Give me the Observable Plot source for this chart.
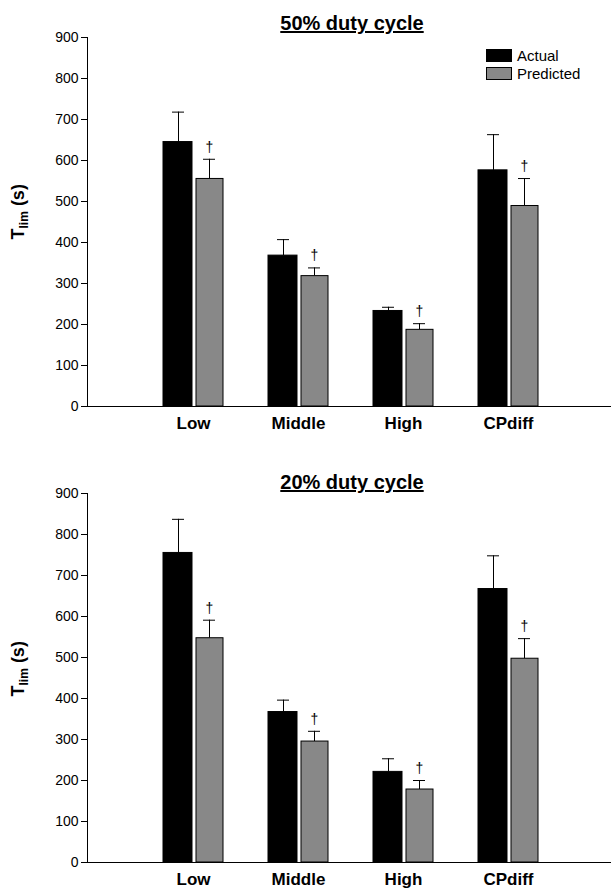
<!DOCTYPE html>
<html><head><meta charset="utf-8">
<script src="https://cdn.jsdelivr.net/npm/d3@7"></script>
<script src="https://cdn.jsdelivr.net/npm/@observablehq/plot@0.6"></script>
<style>
body{margin:0;font-family:"Liberation Sans",Arial,sans-serif;background:#fff}
.panel{position:relative;width:611px}
.title{position:absolute;left:87px;width:530px;text-align:center;font-weight:bold;font-size:20px;text-decoration:underline}
.ylab{position:absolute;left:-8px;transform:rotate(-90deg);font-weight:bold;font-size:18px;white-space:nowrap}
.ylab sub{font-size:12px}
.leg{position:absolute;left:486px;font-size:15px}
.leg div{display:flex;align-items:center;height:18px}
.leg span{display:inline-block;width:24px;height:11px;border:1px solid #000;margin-right:5px}
</style></head><body>
<div id="charts"></div>
<script>
const categories = ["Low", "Middle", "High", "CPdiff"];
const series = ["Actual", "Predicted"];
const actual50 = [645, 368, 233, 576];
const actual50Err = [718, 407, 242, 663];
const pred50 = [555, 318, 187, 489];
const pred50Err = [603, 338, 202, 556];
const actual20 = [755, 367, 221, 667];
const actual20Err = [837, 396, 253, 748];
const pred20 = [547, 295, 178, 497];
const pred20Err = [591, 320, 200, 546];
const yTicks = [0, 100, 200, 300, 400, 500, 600, 700, 800, 900];

function rows(a, ae, p, pe) {
  return categories.flatMap((c, i) => [
    {cat: c, s: "Actual", v: a[i], err: ae[i]},
    {cat: c, s: "Predicted", v: p[i], err: pe[i]}
  ]);
}

function panel(title, data, cfg) {
  const div = document.createElement("div");
  div.className = "panel";
  div.style.height = cfg.panelH + "px";
  const A = data.filter(d => d.s === "Actual"), P = data.filter(d => d.s === "Predicted");
  const chart = Plot.plot({
    width: 611, height: cfg.h,
    marginLeft: 87, marginRight: 0, marginTop: cfg.mt, marginBottom: cfg.mb,
    style: {fontFamily: "Liberation Sans, Arial, sans-serif"},
    x: {domain: categories, range: [163, 541], paddingInner: 0.43, paddingOuter: 0, align: 0, label: null},
    y: {domain: [0, 900], label: null},
    marks: [
      Plot.ruleX(A, {x: "cat", y1: "v", y2: "err", dx: -15, stroke: "#000"}),
      Plot.ruleX(P, {x: "cat", y1: "v", y2: "err", dx: 16, stroke: "#000"}),
      Plot.tickY(A, {x: "cat", y: "err", insetLeft: 9, insetRight: 39, stroke: "#000"}),
      Plot.tickY(P, {x: "cat", y: "err", insetLeft: 40, insetRight: 8, stroke: "#000"}),
      Plot.barY(A, {x: "cat", y: "v", insetRight: 31, fill: "#000", stroke: "#000"}),
      Plot.barY(P, {x: "cat", y: "v", insetLeft: 33, fill: "#888", stroke: "#000"}),
      Plot.text(P, {x: "cat", y: "err", dx: 16, dy: -12, text: () => "†", fontSize: 14, fill: "#000"}),
      Plot.ruleY([0], {stroke: "#000"}),
      Plot.axisY({ticks: yTicks, tickSize: 6, fontSize: 14, stroke: "#000", fill: "#000"}),
      Plot.axisX({tickSize: 0, fontSize: 17, fontWeight: "bold", tickPadding: 10, fill: "#000"}),
      Plot.frame({anchor: "left", stroke: "#000"})
    ]
  });
  chart.style.position = "absolute";
  chart.style.top = cfg.top + "px";
  chart.style.left = "0px";
  div.appendChild(chart);
  const t = document.createElement("div");
  t.className = "title"; t.textContent = title; t.style.top = cfg.titleTop + "px";
  div.appendChild(t);
  const yl = document.createElement("div");
  yl.className = "ylab"; yl.innerHTML = "T<sub>lim</sub> (s)"; yl.style.top = cfg.ylabTop + "px";
  div.appendChild(yl);
  if (cfg.legend) {
    const l = document.createElement("div");
    l.className = "leg"; l.style.top = "46px";
    l.innerHTML = series.map((s, i) => `<div><span style="background:${i ? "#888" : "#000"}"></span>${s}</div>`).join("");
    div.appendChild(l);
  }
  return div;
}

const root = document.getElementById("charts");
root.appendChild(panel("50% duty cycle", rows(actual50, actual50Err, pred50, pred50Err),
  {panelH: 447, top: 26, h: 421, mt: 11, mb: 41, titleTop: 12, ylabTop: 200, legend: true}));
root.appendChild(panel("20% duty cycle", rows(actual20, actual20Err, pred20, pred20Err),
  {panelH: 448, top: 35, h: 413, mt: 11, mb: 33, titleTop: 24, ylabTop: 210, legend: false}));
</script>
</body></html>
